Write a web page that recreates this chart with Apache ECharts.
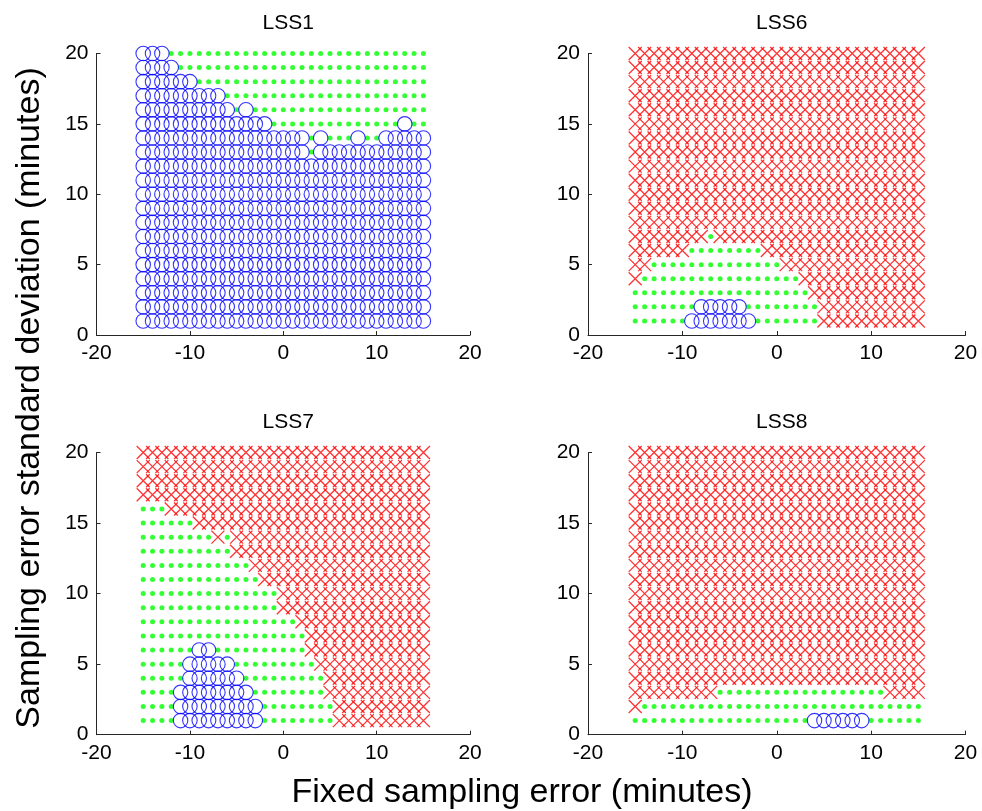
<!DOCTYPE html>
<html>
<head>
<meta charset="utf-8">
<script src="https://cdn.jsdelivr.net/npm/echarts@6/dist/echarts.min.js"></script>
<style>
  html, body { margin: 0; padding: 0; background: #fff; }
  #chart { width: 982px; height: 811px; }
</style>
</head>
<body>
<div id="chart"></div>
<script>
// Grid of tested conditions
const fixedError = [-15, -14, -13, -12, -11, -10, -9, -8, -7, -6, -5, -4, -3, -2, -1, 0,
  1, 2, 3, 4, 5, 6, 7, 8, 9, 10, 11, 12, 13, 14, 15];
const stdDev = [20, 19, 18, 17, 16, 15, 14, 13, 12, 11, 10, 9, 8, 7, 6, 5, 4, 3, 2, 1];

// Outcome per condition, one string per std-dev row (top row = 20),
// one character per fixed-error column (-15 .. 15):
//   'o' = blue circle, '.' = green dot, 'x' = red cross
const lss1 = [
  "ooo............................",
  "oooo...........................",
  "oooooo.........................",
  "ooooooooo......................",
  "oooooooooo.o...................",
  "oooooooooooooo..............o..",
  "oooooooooooooooooo.o...o..ooooo",
  "oooooooooooooooooo.oooooooooooo",
  "ooooooooooooooooooooooooooooooo",
  "ooooooooooooooooooooooooooooooo",
  "ooooooooooooooooooooooooooooooo",
  "ooooooooooooooooooooooooooooooo",
  "ooooooooooooooooooooooooooooooo",
  "ooooooooooooooooooooooooooooooo",
  "ooooooooooooooooooooooooooooooo",
  "ooooooooooooooooooooooooooooooo",
  "ooooooooooooooooooooooooooooooo",
  "ooooooooooooooooooooooooooooooo",
  "ooooooooooooooooooooooooooooooo",
  "ooooooooooooooooooooooooooooooo"
];

const lss6 = [
  "xxxxxxxxxxxxxxxxxxxxxxxxxxxxxxx",
  "xxxxxxxxxxxxxxxxxxxxxxxxxxxxxxx",
  "xxxxxxxxxxxxxxxxxxxxxxxxxxxxxxx",
  "xxxxxxxxxxxxxxxxxxxxxxxxxxxxxxx",
  "xxxxxxxxxxxxxxxxxxxxxxxxxxxxxxx",
  "xxxxxxxxxxxxxxxxxxxxxxxxxxxxxxx",
  "xxxxxxxxxxxxxxxxxxxxxxxxxxxxxxx",
  "xxxxxxxxxxxxxxxxxxxxxxxxxxxxxxx",
  "xxxxxxxxxxxxxxxxxxxxxxxxxxxxxxx",
  "xxxxxxxxxxxxxxxxxxxxxxxxxxxxxxx",
  "xxxxxxxxxxxxxxxxxxxxxxxxxxxxxxx",
  "xxxxxxxxxxxxxxxxxxxxxxxxxxxxxxx",
  "xxxxxxxxxxxxxxxxxxxxxxxxxxxxxxx",
  "xxxxxxxx.xxxxxxxxxxxxxxxxxxxxxx",
  "xxxxxx........xxxxxxxxxxxxxxxxx",
  "xx..............xxxxxxxxxxxxxxx",
  "x.................xxxxxxxxxxxxx",
  "...................xxxxxxxxxxxx",
  ".......ooooo........xxxxxxxxxxx",
  "......ooooooo.......xxxxxxxxxxx"
];

const lss7 = [
  "xxxxxxxxxxxxxxxxxxxxxxxxxxxxxxx",
  "xxxxxxxxxxxxxxxxxxxxxxxxxxxxxxx",
  "xxxxxxxxxxxxxxxxxxxxxxxxxxxxxxx",
  "xxxxxxxxxxxxxxxxxxxxxxxxxxxxxxx",
  "...xxxxxxxxxxxxxxxxxxxxxxxxxxxx",
  "......xxxxxxxxxxxxxxxxxxxxxxxxx",
  "........x.xxxxxxxxxxxxxxxxxxxxx",
  "..........xxxxxxxxxxxxxxxxxxxxx",
  "............xxxxxxxxxxxxxxxxxxx",
  ".............xxxxxxxxxxxxxxxxxx",
  "...............xxxxxxxxxxxxxxxx",
  "...............xxxxxxxxxxxxxxxx",
  ".................xxxxxxxxxxxxxx",
  "..................xxxxxxxxxxxxx",
  "......oo..........xxxxxxxxxxxxx",
  ".....ooooo.........xxxxxxxxxxxx",
  ".....oooooo.........xxxxxxxxxxx",
  "....oooooooo........xxxxxxxxxxx",
  "....ooooooooo........xxxxxxxxxx",
  "....ooooooooo........xxxxxxxxxx"
];

const lss8 = [
  "xxxxxxxxxxxxxxxxxxxxxxxxxxxxxxx",
  "xxxxxxxxxxxxxxxxxxxxxxxxxxxxxxx",
  "xxxxxxxxxxxxxxxxxxxxxxxxxxxxxxx",
  "xxxxxxxxxxxxxxxxxxxxxxxxxxxxxxx",
  "xxxxxxxxxxxxxxxxxxxxxxxxxxxxxxx",
  "xxxxxxxxxxxxxxxxxxxxxxxxxxxxxxx",
  "xxxxxxxxxxxxxxxxxxxxxxxxxxxxxxx",
  "xxxxxxxxxxxxxxxxxxxxxxxxxxxxxxx",
  "xxxxxxxxxxxxxxxxxxxxxxxxxxxxxxx",
  "xxxxxxxxxxxxxxxxxxxxxxxxxxxxxxx",
  "xxxxxxxxxxxxxxxxxxxxxxxxxxxxxxx",
  "xxxxxxxxxxxxxxxxxxxxxxxxxxxxxxx",
  "xxxxxxxxxxxxxxxxxxxxxxxxxxxxxxx",
  "xxxxxxxxxxxxxxxxxxxxxxxxxxxxxxx",
  "xxxxxxxxxxxxxxxxxxxxxxxxxxxxxxx",
  "xxxxxxxxxxxxxxxxxxxxxxxxxxxxxxx",
  "xxxxxxxxxxxxxxxxxxxxxxxxxxxxxxx",
  "xxxxxxxxx..................xxxx",
  "x..............................",
  "...................oooooo......"
];

const panelTitles = ["LSS1", "LSS6", "LSS7", "LSS8"];
const panelRows = [lss1, lss6, lss7, lss8];
const xTicks = { min: -20, max: 20, interval: 10 };
const yTicks = { min: 0, max: 20, interval: 5 };

const FONT = '"Liberation Sans", Arial, Helvetica, sans-serif';
const AXIS_COLOR = '#262626';

// Panel placement in pixels
const panels = [
  { left: 96.5, top: 53.5, width: 373.6, height: 281.5 },
  { left: 588, top: 53.5, width: 377.5, height: 281.5 },
  { left: 96.5, top: 452.5, width: 373.6, height: 282.2 },
  { left: 588, top: 452.5, width: 377.5, height: 282.2 }
];

const crossPath = 'path://M0,0L10,10M10,0L0,10';

function pointsOf(rows, code) {
  const pts = [];
  rows.forEach((row, r) => {
    for (let c = 0; c < row.length; c++) {
      if (row[c] === code) pts.push([fixedError[c], stdDev[r]]);
    }
  });
  return pts;
}

const grids = [], xAxes = [], yAxes = [], series = [], titles = [];

panels.forEach((p, i) => {
  grids.push({ left: p.left, top: p.top, width: p.width, height: p.height, containLabel: false });
  xAxes.push({
    gridIndex: i, type: 'value', min: xTicks.min, max: xTicks.max, interval: xTicks.interval,
    axisLine: { show: true, onZero: false, lineStyle: { color: AXIS_COLOR, width: 1 } },
    axisTick: { show: true, inside: true, length: 4, lineStyle: { color: AXIS_COLOR } },
    axisLabel: { color: '#000', fontSize: 21, fontFamily: FONT, margin: 8 },
    splitLine: { show: false }
  });
  yAxes.push({
    gridIndex: i, type: 'value', min: yTicks.min, max: yTicks.max, interval: yTicks.interval,
    axisLine: { show: true, onZero: false, lineStyle: { color: AXIS_COLOR, width: 1 } },
    axisTick: { show: true, inside: true, length: 4, lineStyle: { color: AXIS_COLOR } },
    axisLabel: { color: '#000', fontSize: 21, fontFamily: FONT, margin: 8 },
    splitLine: { show: false }
  });
  titles.push({
    text: panelTitles[i],
    left: p.left + p.width / 2, top: p.top - 46, textAlign: 'center',
    textStyle: { fontSize: 21, fontWeight: 'normal', color: '#000', fontFamily: FONT }
  });

  const rows = panelRows[i];
  series.push({
    type: 'scatter', xAxisIndex: i, yAxisIndex: i, z: 2,
    data: pointsOf(rows, '.'),
    symbol: 'circle', symbolSize: 5,
    itemStyle: { color: '#00ff00' }
  });
  series.push({
    type: 'scatter', xAxisIndex: i, yAxisIndex: i, z: 3,
    data: pointsOf(rows, 'x'),
    symbol: crossPath, symbolSize: 13,
    itemStyle: { color: 'none', borderColor: '#ff0000', borderWidth: 1.3 }
  });
  series.push({
    type: 'scatter', xAxisIndex: i, yAxisIndex: i, z: 4,
    data: pointsOf(rows, 'o'),
    symbol: 'circle', symbolSize: 14.5,
    itemStyle: { color: 'none', borderColor: '#0000ff', borderWidth: 1.1 }
  });
});

const chart = echarts.init(document.getElementById('chart'), null, { renderer: 'canvas' });
chart.setOption({
  animation: false,
  backgroundColor: '#fff',
  title: titles,
  grid: grids,
  xAxis: xAxes,
  yAxis: yAxes,
  series: series,
  graphic: [
    {
      type: 'text', x: 522, y: 776,
      style: {
        text: 'Fixed sampling error (minutes)', fontSize: 34, fontFamily: FONT, fill: '#000',
        align: 'center', verticalAlign: 'top'
      }
    },
    {
      type: 'text', x: 13, y: 398, rotation: Math.PI / 2,
      style: {
        text: 'Sampling error standard deviation (minutes)', fontSize: 34, fontFamily: FONT, fill: '#000',
        align: 'center', verticalAlign: 'top'
      }
    }
  ]
});
</script>
</body>
</html>
